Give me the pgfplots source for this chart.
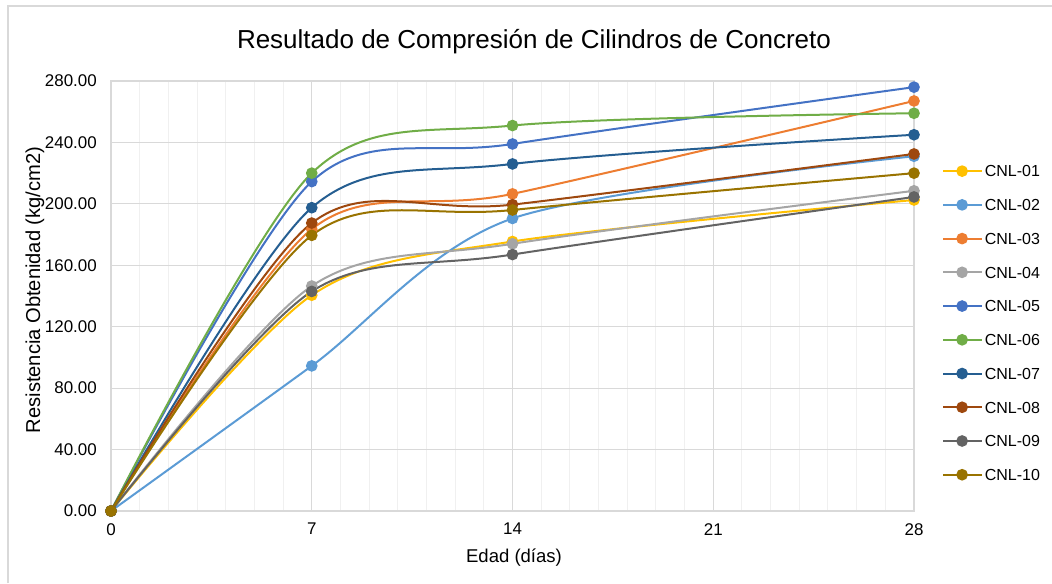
\documentclass[border=0pt]{standalone}
\usepackage{fontspec}
\setmainfont{Liberation Sans}
\usepackage{pgfplots}
\pgfplotsset{compat=1.18}

\definecolor{c01}{HTML}{FFC000}
\definecolor{c02}{HTML}{5B9BD5}
\definecolor{c03}{HTML}{ED7D31}
\definecolor{c04}{HTML}{A5A5A5}
\definecolor{c05}{HTML}{4472C4}
\definecolor{c06}{HTML}{70AD47}
\definecolor{c07}{HTML}{255E91}
\definecolor{c08}{HTML}{9E480E}
\definecolor{c09}{HTML}{636363}
\definecolor{c10}{HTML}{997300}
\definecolor{gridmaj}{HTML}{D9D9D9}
\definecolor{gridmin}{HTML}{F0F0F0}

\pgfplotsset{
  serie/.style={color=#1, line width=1.5pt, smooth, mark=*,
    mark size=3.6pt, mark options={solid, fill=#1, draw=#1}},
}

\begin{document}
\begin{tikzpicture}
\begin{axis}[
  at={(83.25pt,54pt)}, anchor=south west,
  scale only axis, width=602.25pt, height=322.5pt,
  xmin=0, xmax=28, ymin=0, ymax=280,
  xtick={0,7,14,21,28}, minor x tick num=6,
  ytick={0,40,...,280},
  xmajorgrids=true, xminorgrids=true, ymajorgrids=true,
  major grid style={draw=gridmaj, line width=0.75pt},
  minor grid style={draw=gridmin, line width=0.75pt},
  axis line style={draw=gridmaj, line width=0.9pt},
  major tick length=0pt, minor tick length=0pt,
  tick style={draw=none},
  /pgf/number format/assume math mode=true,
  ticklabel style={font=\fontsize{12.7}{15}\selectfont, inner sep=0pt},
  yticklabel style={anchor=east, xshift=-10.5pt,
    /pgf/number format/.cd, fixed, fixed zerofill, precision=2},
  xticklabel style={anchor=north, yshift=-9pt},
  legend cell align=left,
  legend image code/.code={
    \draw[mark repeat=2, mark phase=2, #1]
      plot coordinates {(0pt,0pt) (14.25pt,0pt) (28.5pt,0pt)};},
  legend style={draw=none, fill=none, inner sep=0pt, outer sep=0pt,
    at={(1.035,0.809)}, anchor=north west,
    font=\fontsize{12}{14}\selectfont, row sep=13.3pt, column sep=2pt,
    nodes={inner sep=0pt, text height=10.3pt, text depth=1.7pt}},
]
\addplot[serie=c01] coordinates {(0,0) (7,140.5) (14,175.5) (28,202.5)};
\addlegendentry{CNL-01}
\addplot[serie=c02] coordinates {(0,0) (7,94.5) (14,190.5) (28,231)};
\addlegendentry{CNL-02}
\addplot[serie=c03] coordinates {(0,0) (7,183.5) (14,206.5) (28,267)};
\addlegendentry{CNL-03}
\addplot[serie=c04] coordinates {(0,0) (7,146.5) (14,174) (28,208.5)};
\addlegendentry{CNL-04}
\addplot[serie=c05] coordinates {(0,0) (7,214.5) (14,239) (28,276)};
\addlegendentry{CNL-05}
\addplot[serie=c06] coordinates {(0,0) (7,220) (14,251) (28,259)};
\addlegendentry{CNL-06}
\addplot[serie=c07] coordinates {(0,0) (7,197.5) (14,226) (28,245)};
\addlegendentry{CNL-07}
\addplot[serie=c08] coordinates {(0,0) (7,187.5) (14,199.5) (28,232.5)};
\addlegendentry{CNL-08}
\addplot[serie=c09] coordinates {(0,0) (7,143) (14,167) (28,204.5)};
\addlegendentry{CNL-09}
\addplot[serie=c10] coordinates {(0,0) (7,179.5) (14,196) (28,220)};
\addlegendentry{CNL-10}
\end{axis}

% chart title and axis titles
\node[font=\fontsize{19.5}{23}\selectfont] at (400.5pt,405.75pt)
  {Resultado de Compresión de Cilindros de Concreto};
\node[font=\fontsize{13.9}{16}\selectfont] at (385.5pt,18.75pt) {Edad (días)};
\node[font=\fontsize{15.1}{18}\selectfont, rotate=90] at (26.25pt,219.75pt)
  {Resistencia Obtenidad (kg/cm2)};

% chart area border
\draw[gridmaj, line width=0.9pt] (6pt,0pt) -- (6pt,432.75pt) -- (789pt,432.75pt);

\pgfresetboundingbox
\path[use as bounding box] (0pt,0pt) rectangle (789pt,437.25pt);
\end{tikzpicture}
\end{document}
